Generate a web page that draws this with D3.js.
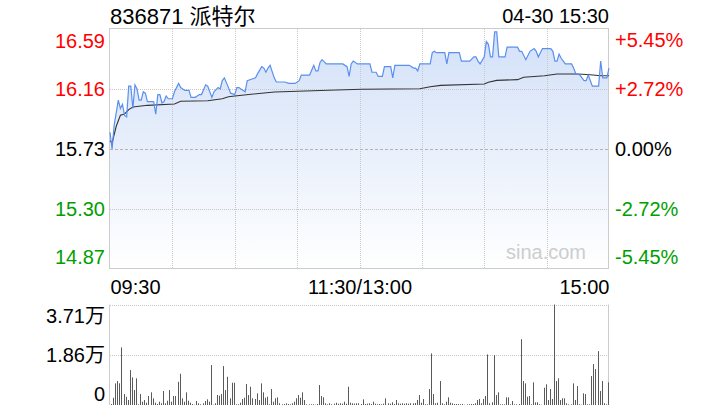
<!DOCTYPE html>
<html><head><meta charset="utf-8">
<script src="https://cdn.jsdelivr.net/npm/d3@7"></script>
<style>
html,body{margin:0;padding:0;background:#fff;}
svg{display:block;}
text{font-family:"Liberation Sans","Noto Sans CJK SC",sans-serif;}
</style></head>
<body>
<svg id="c" width="720" height="420"></svg>
<script>
// ---- data ----
const title = "836871 派特尔";
const stamp = "04-30 15:30";
const preClose = 15.73;
const priceTicks = [16.59, 16.16, 15.73, 15.30, 14.87];
const pctLabels = ["+5.45%", "+2.72%", "0.00%", "-2.72%", "-5.45%"];
const timeLabels = ["09:30", "11:30/13:00", "15:00"];
const timeTicks = [0, 120, 240];
const volTicks = [0, 18550, 37100];
const volLabels = ["0", "1.86万", "3.71万"];

// price line vertices: minute index (0..240) and price
const priceMin = [0,1,2,4,5,6,7,8,9,10,11,12,13,14,15,16,17,18,21,22,23,24,25,26,27,28,30,31,33,34,36,38,39,41,43,44,46,47,49,50,52,53,54,55,57,58,60,61,62,64,65,66,68,70,71,73,74,75,76,77,79,80,84,86,89,91,92,96,98,99,100,101,102,104,112,114,115,116,117,119,120,125,126,128,129,131,132,135,136,137,144,146,147,148,149,154,155,156,157,161,162,163,168,169,173,175,176,177,178,180,181,182,183,184,185,186,187,190,191,196,197,198,200,202,204,205,206,208,211,212,213,214,215,216,217,218,219,222,223,224,226,228,229,230,232,235,236,237,239,240];
const priceVal = [15.85,15.73,15.90,16.08,16.02,16.05,15.97,15.96,16.18,16.18,16.02,16.19,16.16,16.08,16.08,16.14,16.13,16.07,16.07,15.98,16.12,16.12,16.06,16.07,16.11,16.09,16.09,16.14,16.20,16.17,16.15,16.15,16.10,16.10,16.12,16.12,16.19,16.18,16.10,16.14,16.17,16.16,16.22,16.24,16.17,16.13,16.12,16.17,16.17,16.15,16.14,16.22,16.23,16.24,16.27,16.32,16.31,16.28,16.31,16.33,16.24,16.21,16.21,16.20,16.20,16.22,16.26,16.26,16.33,16.29,16.29,16.35,16.37,16.34,16.34,16.32,16.25,16.34,16.36,16.34,16.34,16.34,16.28,16.28,16.25,16.25,16.32,16.32,16.24,16.33,16.33,16.31,16.31,16.29,16.34,16.34,16.42,16.43,16.42,16.42,16.34,16.42,16.42,16.36,16.36,16.39,16.39,16.36,16.34,16.39,16.50,16.48,16.39,16.39,16.57,16.57,16.39,16.39,16.46,16.46,16.43,16.43,16.37,16.43,16.45,16.43,16.39,16.45,16.45,16.45,16.43,16.36,16.36,16.41,16.38,16.36,16.34,16.34,16.31,16.27,16.26,16.22,16.22,16.26,16.18,16.18,16.36,16.24,16.24,16.31];

// average price line vertices
const avgMin = [0,1,3,5,7,9,11,18,31,34,47,54,57,60,79,105,121,149,154,159,180,182,186,196,199,209,215,225,231,236,240];
const avgVal = [15.79,15.773,15.893,15.972,15.981,16.012,16.031,16.043,16.052,16.072,16.076,16.090,16.105,16.110,16.139,16.151,16.158,16.162,16.176,16.186,16.196,16.208,16.222,16.227,16.244,16.255,16.268,16.268,16.262,16.255,16.255];

// volume per minute bar (shares), 240 bars
const volume = [370,2690,7990,8840,7990,21260,4050,3060,1840,12890,10200,5530,9840,260,4050,1220,1840,850,3320,4680,2470,850,370,1220,630,5160,630,1580,5530,1220,3320,3320,8580,11530,2470,1220,4680,1580,850,370,110,1470,630,260,630,1470,2100,1220,14740,110,630,3680,3430,4050,14370,5530,10430,2470,8220,8220,260,260,850,2210,2690,7740,3680,6740,2470,2210,4310,1840,7990,4680,2690,3060,260,5890,1220,2470,2840,630,260,370,630,370,260,630,1220,2470,3680,2690,4680,1840,260,260,260,260,110,370,7370,3320,2840,630,260,630,260,480,850,480,630,480,1220,480,6740,850,630,480,630,630,370,2100,370,480,630,370,1220,480,260,370,260,480,2470,630,480,990,370,1840,630,480,630,480,630,480,630,630,740,1840,3680,850,2210,260,260,5890,19050,4050,630,850,8840,630,260,1220,2840,850,630,370,370,370,260,370,110,260,260,370,370,630,1840,2210,630,2210,3320,18680,630,990,18420,3680,4680,260,260,260,2840,2840,260,1470,260,260,370,24310,8840,7990,3060,3320,260,8360,990,990,260,110,6370,7630,1840,5890,2210,37100,8840,9840,1840,2470,2470,630,260,260,7990,1840,7000,260,110,4310,4050,260,260,10680,15100,13260,19890,5160,8840,630,260,8360];

// ---- layout ----
const L = 110, R = 609, PT = 29, PB = 269, VT = 304.5, VB = 405;
const svg = d3.select("#c");
const x = d3.scaleLinear().domain([0, 240]).range([L, R]);
const y = d3.scaleLinear().domain([14.87, 16.59]).range([PB, PT]);
const yPct = d3.scaleLinear().domain([-0.0545, 0.0545]).range([PB, PT]);
const xb = d3.scaleBand().domain(d3.range(volume.length)).range([L, R]);
const yv = d3.scaleLinear().domain([0, 37100]).range([VB, VT]);

const pts = priceMin.map((m, i) => ({m, p: priceVal[i]}));
const avg = avgMin.map((m, i) => ({m, p: avgVal[i]}));

// gradient
const defs = svg.append("defs");
const g = defs.append("linearGradient").attr("id", "fillg")
  .attr("gradientUnits", "userSpaceOnUse").attr("x1", 0).attr("x2", 0)
  .attr("y1", y(16.59)).attr("y2", y(14.87));
g.append("stop").attr("offset", 0).attr("stop-color", "#d2e0f8");
g.append("stop").attr("offset", 1).attr("stop-color", "#ffffff");

// area
svg.append("path").datum(pts)
  .attr("d", d3.area().x(d => x(d.m)).y0(y(14.87)).y1(d => y(d.p)))
  .attr("fill", "url(#fillg)");

// grid
const px = v => Math.round(v) + 0.5;
const grid = svg.append("g");
d3.range(30, 240, 30).forEach(m => {
  grid.append("line").attr("x1", px(x(m))).attr("x2", px(x(m)))
    .attr("y1", y(16.59)).attr("y2", y(14.87))
    .attr("stroke", "#c8c8c8").attr("stroke-dasharray", "1,1");
});
[16.16, 15.30].forEach(v => {
  grid.append("line").attr("x1", L).attr("x2", R)
    .attr("y1", px(y(v))).attr("y2", px(y(v)))
    .attr("stroke", "#c8c8c8").attr("stroke-dasharray", "1,1");
});
grid.append("line").attr("x1", L).attr("x2", R)
  .attr("y1", px(y(preClose))).attr("y2", px(y(preClose)))
  .attr("stroke", "#b4b4b4").attr("stroke-dasharray", "3,2");

// price box border
svg.append("rect").attr("x", px(L) - 1).attr("y", px(y(16.59)) - 1)
  .attr("width", Math.round(R - L)).attr("height", Math.round(y(14.87) - y(16.59)))
  .attr("fill", "none").attr("stroke", "#cccccc");

// lines
svg.append("path").datum(avg)
  .attr("d", d3.line().x(d => x(d.m)).y(d => y(d.p)))
  .attr("fill", "none").attr("stroke", "#333").attr("stroke-width", 1.1);
svg.append("path").datum(pts)
  .attr("d", d3.line().x(d => x(d.m)).y(d => y(d.p)))
  .attr("fill", "none").attr("stroke", "#5a8ff0").attr("stroke-width", 1.2);

// watermark
svg.append("text").attr("x", 506).attr("y", 259).text("sina.com")
  .attr("font-size", 20).attr("fill", "#cdcdcd");

// axes
const colorOf = i => i < 2 ? "#ff0000" : (i === 2 ? "#000" : "#00a000");
const dyOf = i => i === 0 ? "0.9em" : (i === 4 ? "-0.3em" : "0.32em");
const la = svg.append("g").attr("transform", `translate(${L},0)`)
  .call(d3.axisLeft(y).tickValues(priceTicks).tickSize(0).tickPadding(5).tickFormat(d3.format(".2f")));
la.select(".domain").remove();
la.selectAll("text").attr("font-size", 20).attr("font-family", null)
  .attr("fill", (d, i) => colorOf(i)).attr("dy", (d, i) => dyOf(i));
const ra = svg.append("g").attr("transform", `translate(${R},0)`)
  .call(d3.axisRight(yPct).tickValues(priceTicks.map(v => (v - preClose) / preClose)).tickSize(0).tickPadding(6)
    .tickFormat((d, i) => pctLabels[i]));
ra.select(".domain").remove();
ra.selectAll("text").attr("font-size", 20).attr("font-family", null)
  .attr("fill", (d, i) => colorOf(i)).attr("dy", (d, i) => dyOf(i));

const ta = svg.append("g").attr("transform", `translate(0,${PB})`)
  .call(d3.axisBottom(x).tickValues(timeTicks).tickSize(0).tickPadding(0).tickFormat((d, i) => timeLabels[i]));
ta.select(".domain").remove();
ta.selectAll("text").attr("font-size", 20).attr("font-family", null).attr("fill", "#000")
  .attr("dy", "1.25em")
  .attr("text-anchor", (d, i) => i === 0 ? "start" : (i === 2 ? "end" : "middle"));

// title
svg.append("text").attr("x", L).attr("y", 24).text(title)
  .attr("font-size", 22).attr("fill", "#000");
svg.append("text").attr("x", R).attr("y", 23).text(stamp)
  .attr("font-size", 20).attr("fill", "#000").attr("text-anchor", "end");

// volume panel
svg.append("line").attr("x1", L).attr("x2", R).attr("y1", px(yv(37100))).attr("y2", px(yv(37100)))
  .attr("stroke", "#c8c8c8").attr("stroke-dasharray", "1,1");
svg.append("line").attr("x1", L).attr("x2", R).attr("y1", px(yv(18550))).attr("y2", px(yv(18550)))
  .attr("stroke", "#c8c8c8").attr("stroke-dasharray", "1,1");
svg.append("line").attr("x1", px(L) - 1).attr("x2", px(L) - 1).attr("y1", yv(37100)).attr("y2", yv(0))
  .attr("stroke", "#cccccc");
svg.append("line").attr("x1", px(R) - 1).attr("x2", px(R) - 1).attr("y1", yv(37100)).attr("y2", yv(0))
  .attr("stroke", "#cccccc");
svg.append("g").selectAll("rect").data(volume).join("rect")
  .attr("x", (d, i) => Math.round(xb(i) + xb.bandwidth() / 2))
  .attr("width", 1)
  .attr("y", d => yv(d)).attr("height", d => yv(0) - yv(d))
  .attr("fill", "#5a5a5a");

const va = svg.append("g").attr("transform", `translate(${L},0)`)
  .call(d3.axisLeft(yv).tickValues(volTicks).tickSize(0).tickPadding(5).tickFormat((d, i) => volLabels[i]));
va.select(".domain").remove();
va.selectAll("text").attr("font-size", 20).attr("font-family", null).attr("fill", "#000")
  .attr("dy", (d, i) => i === 0 ? "-0.25em" : (i === 2 ? "0.9em" : "0.32em"));
</script>
</body></html>
